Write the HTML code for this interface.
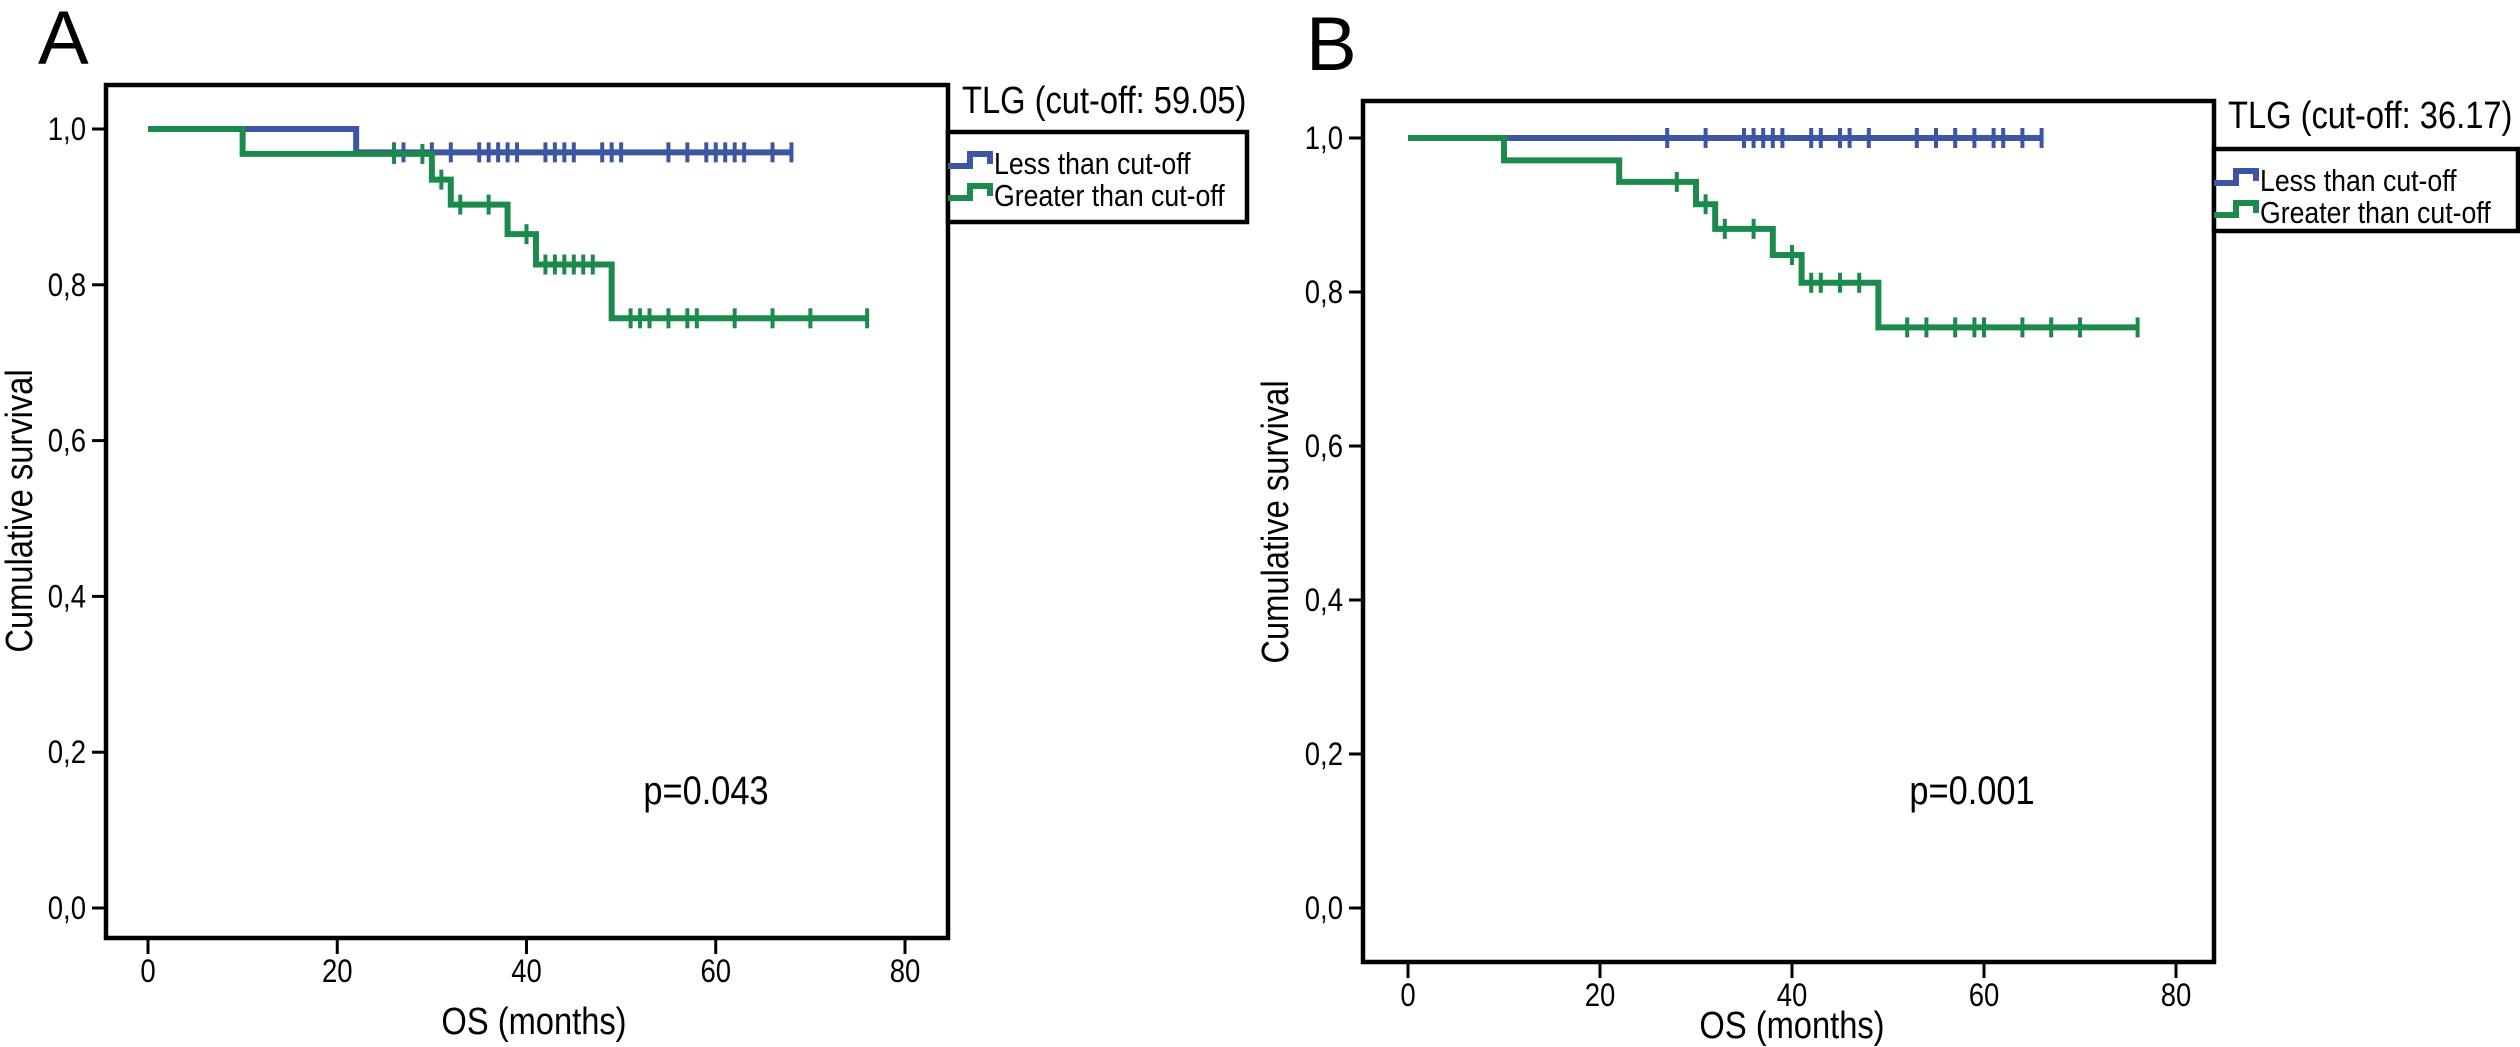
<!DOCTYPE html>
<html><head><meta charset="utf-8"><style>
html,body{margin:0;padding:0;background:#fff;}
svg{display:block;font-family:"Liberation Sans",Arial,sans-serif;}
</style></head><body>
<svg id="fig" width="2520" height="1047" viewBox="0 0 2520 1047" xmlns="http://www.w3.org/2000/svg"></svg>
<script>
// Panel A data
const xTicks = [0, 20, 40, 60, 80];
const yTicks = [0, 0.2, 0.4, 0.6, 0.8, 1.0];
const yTickLabels = ["0,0", "0,2", "0,4", "0,6", "0,8", "1,0"];
const aBlueTimes = [0, 22, 68];
const aBlueSurv = [1.0, 0.97];
const aBlueCens = [26,27,30,32,35,36,37,38,39,42,43,44,45,48,49,50,55,57,59,60,61,62,63,66,68];
const aGreenTimes = [0, 10, 30, 32, 38, 41, 49, 76];
const aGreenSurv = [1.0, 0.968, 0.935, 0.903, 0.865, 0.826, 0.757];
const aGreenCens = [26,29,31,33,36,40,42,43,44,45,46,47,51,52,53,55,57,58,62,66,70,76];
// Panel B data
const bBlueTimes = [0, 66];
const bBlueSurv = [1.0];
const bBlueCens = [27,31,35,36,37,38,39,42,43,45,46,48,53,55,57,59,61,62,64,66];
const bGreenTimes = [0, 10, 22, 30, 32, 38, 41, 49, 76];
const bGreenSurv = [1.0, 0.971, 0.943, 0.914, 0.882, 0.848, 0.812, 0.754];
const bGreenCens = [28,31,33,36,40,42,43,45,47,52,54,57,59,60,64,67,70,76];

const NS = "http://www.w3.org/2000/svg";
const svg = document.getElementById('fig');
const BLUE = "#3d55a2", GREEN = "#1b8a4c";
const SX = 0.86;
function mk(tag, attrs, parent, text){
  const e = document.createElementNS(NS, tag);
  for (const k in attrs) e.setAttribute(k, attrs[k]);
  if (text !== undefined) e.textContent = text;
  (parent || svg).appendChild(e);
  return e;
}
function txt(parent, x, y, size, anchor, s, rot){
  return mk('text', {x: 0, y: 0, 'font-size': size, 'text-anchor': anchor,
    transform: `translate(${x},${y})${rot ? ' rotate(-90)' : ''} scale(${SX},1)`}, parent, s);
}

function panel(cfg){
  const g = mk('g', {});
  
  
  const sx = v => cfg.x0 + v / 80 * (cfg.x80 - cfg.x0);
  const sy = v => cfg.y0 - v * (cfg.y0 - cfg.y1);
  const lbl = mk('text', {x: cfg.letterX, y: cfg.letterY, 'font-size': 76}, g, cfg.letter);
  
  
  const fr = mk('rect', {x: cfg.L, y: cfg.T, width: cfg.R - cfg.L, height: cfg.B - cfg.T, fill: 'none', stroke: '#000', 'stroke-width': 4.5}, g);
  
  
  yTicks.forEach((v, i) => {
    const y = sy(v);
    const t = mk('line', {x1: cfg.L - 14, x2: cfg.L, y1: y, y2: y, stroke: '#000', 'stroke-width': 3}, g);
    
    
    const tx = txt(g, cfg.L - 20, y + 11, 32, 'end', yTickLabels[i]);
    
    
  });
  xTicks.forEach(v => {
    const x = sx(v);
    const t = mk('line', {x1: x, x2: x, y1: cfg.B, y2: cfg.B + 16, stroke: '#000', 'stroke-width': 3}, g);
    
    
    const tx = txt(g, x, cfg.B + 44, 32, 'middle', String(v));
    
    
  });
  const xt = txt(g, cfg.xTitleX, cfg.xTitleY, 38, 'middle', 'OS (months)');
  
  
  const yt = txt(g, cfg.yTitleX, cfg.yTitleY, 38, 'middle', 'Cumulative survival', true);
  
  
  const pv = txt(g, cfg.pX, cfg.pY, 40, 'middle', cfg.p);
  
  

  function curve(times, surv, cens, color, name){
    let d = `M${sx(times[0])},${sy(surv[0])}`;
    for (let i = 1; i < times.length; i++){
      d += ` H${sx(times[i])}`;
      if (i < surv.length) d += ` V${sy(surv[i])}`;
    }
    const p = mk('path', {d: d, fill: 'none', stroke: color, 'stroke-width': 6}, g);
    
    
    cens.forEach(c => {
      let k = 0;
      for (let i = 0; i < surv.length; i++) if (times[i] <= c) k = i;
      const x = sx(c), y = sy(surv[k]);
      const m = mk('line', {x1: x, x2: x, y1: y - 10, y2: y + 10, stroke: color, 'stroke-width': 4}, g);
      
      
    });
  }
  curve(cfg.blueT, cfg.blueS, cfg.blueC, BLUE, 'less-than-cutoff');
  curve(cfg.greenT, cfg.greenS, cfg.greenC, GREEN, 'greater-than-cutoff');

  const lg = mk('g', {}, g);
  
  
  const title = txt(lg, cfg.legX + 14, cfg.legTitleY, 38, 'start', cfg.legTitle);
  
  
  const box = mk('rect', {x: cfg.legX, y: cfg.legY, width: cfg.legW, height: cfg.legH, fill: '#fff', stroke: '#000', 'stroke-width': 4.5}, lg);
  
  
  [[BLUE, 'Less than cut-off', 'less'], [GREEN, 'Greater than cut-off', 'greater']].forEach((e, i) => {
    const y = cfg.legY + 30 + i * 32;
    const x = cfg.legX;
    const s = mk('path', {d: `M${x},${y + 4} H${x + 22} V${y - 8} H${x + 42} V${y + 2}`, fill: 'none', stroke: e[0], 'stroke-width': 6}, lg);
    
    
    const t = txt(lg, x + 46, y + 12, 31, 'start', e[1]);
    
    
  });
}

panel({id: 'a', letter: 'A', letterX: 38, letterY: 64,
  L: 106, T: 85, R: 948, B: 938, x0: 148, x80: 905, y0: 908, y1: 129,
  xTitleX: 534, xTitleY: 1034, yTitleX: 32, yTitleY: 511, pX: 706, pY: 804, p: 'p=0.043',
  blueT: aBlueTimes, blueS: aBlueSurv, blueC: aBlueCens,
  greenT: aGreenTimes, greenS: aGreenSurv, greenC: aGreenCens,
  legX: 948, legY: 132, legW: 299, legH: 90, legTitleY: 113, legTitle: 'TLG (cut-off: 59.05)'});
panel({id: 'b', letter: 'B', letterX: 1306, letterY: 70,
  L: 1363, T: 101, R: 2214, B: 962, x0: 1408, x80: 2176, y0: 908, y1: 138,
  xTitleX: 1792, xTitleY: 1038, yTitleX: 1288, yTitleY: 522, pX: 1972, pY: 804, p: 'p=0.001',
  blueT: bBlueTimes, blueS: bBlueSurv, blueC: bBlueCens,
  greenT: bGreenTimes, greenS: bGreenSurv, greenC: bGreenCens,
  legX: 2214, legY: 149, legW: 304, legH: 82, legTitleY: 128, legTitle: 'TLG (cut-off: 36.17)'});
</script>
</body></html>
